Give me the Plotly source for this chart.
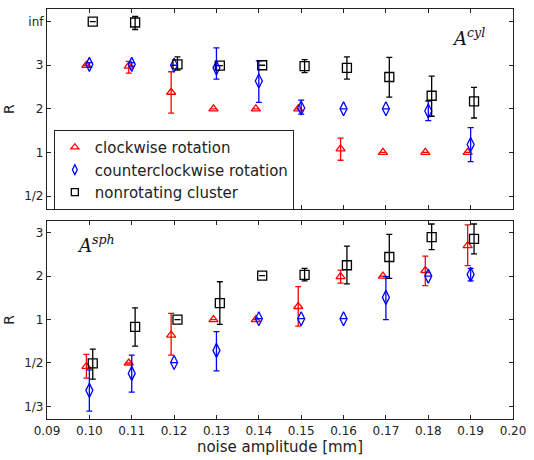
import plotly.graph_objects as go

noise = [0.10, 0.11, 0.12, 0.13, 0.14, 0.15, 0.16, 0.17, 0.18, 0.19]

# Top panel (A^cyl): positions on ordinal scale 1/2=0, 1=1, 2=2, 3=3, inf=4
cyl_cw = [3.0, 2.98, 2.38, 2.0, 2.0, 2.0, 1.08, 1.0, 1.0, 1.0]
cyl_cw_hi = [3.0, 3.09, 2.85, 2.0, 2.0, 2.0, 1.33, 1.0, 1.0, 1.0]
cyl_cw_lo = [3.0, 2.82, 1.90, 2.0, 2.0, 2.0, 0.82, 1.0, 1.0, 1.0]

cyl_ccw = [3.02, 3.02, 3.0, 2.94, 2.64, 2.02, 2.0, 2.0, 1.95, 1.18]
cyl_ccw_hi = [3.06, 3.06, 3.0, 3.40, 3.10, 2.20, 2.0, 2.0, 2.18, 1.57]
cyl_ccw_lo = [2.95, 2.98, 3.0, 2.68, 2.15, 1.88, 2.0, 2.0, 1.73, 0.79]

cyl_non = [4.0, 3.98, 3.02, 2.99, 3.0, 2.98, 2.94, 2.73, 2.30, 2.17]
cyl_non_hi = [4.0, 4.12, 3.19, 2.99, 3.0, 3.13, 3.19, 3.18, 2.75, 2.49]
cyl_non_lo = [4.0, 3.82, 2.89, 2.99, 3.0, 2.83, 2.68, 2.27, 1.83, 1.79]

# Bottom panel (A^sph): positions 1/3=0, 1/2=1, 1=2, 2=3, 3=4
sph_cw = [0.92, 1.0, 1.64, 2.0, 2.0, 2.30, 2.99, 3.0, 3.13, 3.70]
sph_cw_hi = [1.20, 1.0, 2.14, 2.0, 2.0, 2.76, 3.14, 3.0, 3.46, 4.18]
sph_cw_lo = [0.65, 1.0, 1.18, 2.0, 2.0, 1.85, 2.84, 3.0, 2.78, 3.24]

sph_ccw = [0.37, 0.76, 1.01, 1.29, 2.02, 2.02, 2.02, 2.51, 3.0, 3.04]
sph_ccw_hi = [0.84, 1.18, 1.01, 1.72, 2.02, 2.02, 2.02, 2.99, 3.0, 3.18]
sph_ccw_lo = [-0.11, 0.33, 1.01, 0.82, 2.02, 2.02, 2.02, 2.00, 3.0, 2.89]

sph_non = [0.99, 1.83, 2.0, 2.38, 3.01, 3.03, 3.25, 3.44, 3.90, 3.86]
sph_non_hi = [1.32, 2.27, 2.0, 2.87, 3.01, 3.18, 3.69, 3.96, 4.20, 4.20]
sph_non_lo = [0.63, 1.39, 2.0, 1.89, 3.01, 2.89, 2.82, 2.95, 3.61, 3.51]

top_ticks = ["1/2", "1", "2", "3", "inf"]
bot_ticks = ["1/3", "1/2", "1", "2", "3"]
x_ticks = [0.09, 0.10, 0.11, 0.12, 0.13, 0.14, 0.15, 0.16, 0.17, 0.18, 0.19, 0.20]

names = ["clockwise rotation", "counterclockwise rotation", "nonrotating cluster"]
colors = ["red", "blue", "black"]
symbols = ["triangle-up-open", "diamond-tall-open", "square-open"]
offsets = [-0.0007, 0.0, 0.0008]
sizes = [8, 10, 9]

fig = go.Figure()

def add(series, hi, lo, k, xa, ya):
    xs = [n + offsets[k] for n in noise]
    fig.add_trace(go.Scatter(
        x=xs, y=series, mode="markers", name=names[k], showlegend=False,
        xaxis=xa, yaxis=ya,
        marker=dict(symbol=symbols[k], color=colors[k], size=sizes[k],
                    line=dict(width=1.3, color=colors[k])),
        error_y=dict(type="data", symmetric=False,
                     array=[h - v for h, v in zip(hi, series)],
                     arrayminus=[v - l for l, v in zip(lo, series)],
                     color=colors[k], thickness=1.3, width=3),
    ))

add(cyl_cw, cyl_cw_hi, cyl_cw_lo, 0, "x", "y")
add(cyl_ccw, cyl_ccw_hi, cyl_ccw_lo, 1, "x", "y")
add(cyl_non, cyl_non_hi, cyl_non_lo, 2, "x", "y")
add(sph_cw, sph_cw_hi, sph_cw_lo, 0, "x2", "y2")
add(sph_ccw, sph_ccw_hi, sph_ccw_lo, 1, "x2", "y2")
add(sph_non, sph_non_hi, sph_non_lo, 2, "x2", "y2")

# legend-only entries (smaller markers, as in the reference legend)
for k in range(3):
    fig.add_trace(go.Scatter(
        x=[None], y=[None], mode="markers", name=names[k], showlegend=True,
        marker=dict(symbol=symbols[k], color=colors[k], size=7,
                    line=dict(width=1.3, color=colors[k])),
    ))

axcommon = dict(showline=True, linecolor="#222", linewidth=1.2, mirror="ticks",
                ticks="inside", ticklen=4, tickcolor="#222", showgrid=False,
                zeroline=False, tickfont=dict(size=12, color="#222"))

fig.update_layout(
    width=534, height=460,
    margin=dict(l=44, r=14, t=8, b=38),
    paper_bgcolor="white", plot_bgcolor="white",
    font=dict(family="DejaVu Sans", color="#222"),
    xaxis=dict(domain=[0, 1], anchor="y", range=[0.09, 0.20], tickvals=x_ticks,
               showticklabels=False, **axcommon),
    yaxis=dict(domain=[0.512, 1], anchor="x", range=[-0.3, 4.29],
               tickvals=[0, 1, 2, 3, 4], ticktext=top_ticks,
               title=dict(text="R", font=dict(size=14), standoff=6), **axcommon),
    xaxis2=dict(domain=[0, 1], anchor="y2", range=[0.09, 0.20], tickvals=x_ticks,
                tickformat=".2f",
                title=dict(text="noise amplitude [mm]", font=dict(size=15), standoff=4),
                **axcommon),
    yaxis2=dict(domain=[0, 0.483], anchor="x2", range=[-0.29, 4.27],
                tickvals=[0, 1, 2, 3, 4], ticktext=bot_ticks,
                title=dict(text="R", font=dict(size=14), standoff=6), **axcommon),
    legend=dict(x=0.0147, y=0.705, xanchor="left", yanchor="top",
                bordercolor="#222", borderwidth=1, bgcolor="white",
                font=dict(size=15, color="#222"), tracegroupgap=0,
                itemsizing="trace"),
    annotations=[
        dict(text="<i>A</i><sup><i>cyl</i></sup>", xref="paper", yref="paper",
             x=0.945, y=0.965, xanchor="right", yanchor="top", showarrow=False,
             font=dict(family="DejaVu Serif", size=18, color="#111")),
        dict(text="<i>A</i><sup><i>sph</i></sup>", xref="paper", yref="paper",
             x=0.06, y=0.46, xanchor="left", yanchor="top", showarrow=False,
             font=dict(family="DejaVu Serif", size=18, color="#111")),
    ],
)

fig.write_html("out.html")
